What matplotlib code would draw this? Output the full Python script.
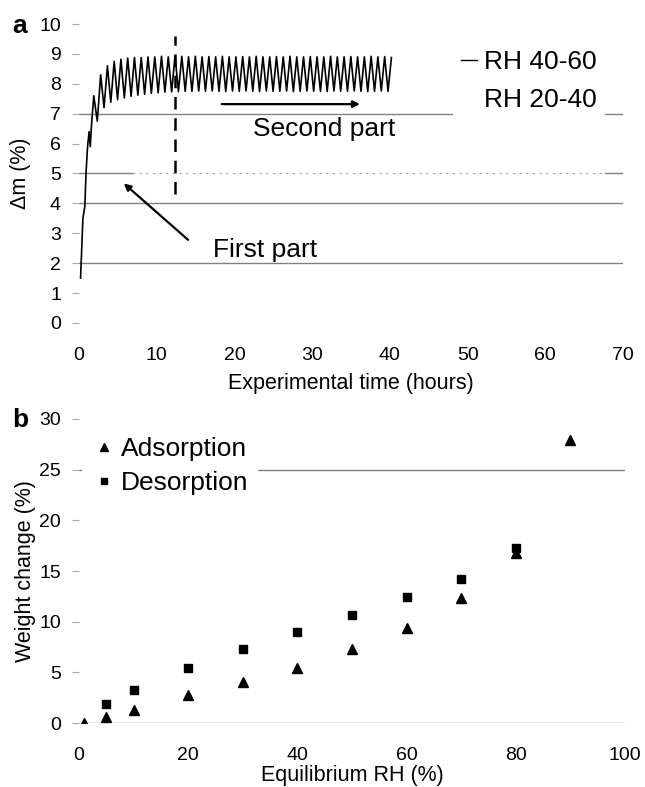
import numpy as np
import matplotlib
matplotlib.use("Agg")
import matplotlib.pyplot as plt
from matplotlib.lines import Line2D

plt.rcParams['font.family'] = ['Liberation Sans', 'DejaVu Sans']

# --- panel a: mass change during RH cycling ---
# first rise (hours, %)
rise_t = [0.2, 0.35, 0.5, 0.75, 0.9, 1.1, 1.3, 1.45, 1.6, 1.9]
rise_dm = [1.5, 2.5, 3.5, 3.9, 5.0, 5.9, 6.4, 5.9, 6.6, 7.6]

# turning points of the RH 20-40 / 40-60 cycles
cycle_start = 2.35
cycle_period = 0.87
trough_dm = [6.75, 7.20, 7.38, 7.47, 7.53, 7.58, 7.62, 7.65, 7.68, 7.70,
             7.72, 7.73, 7.74, 7.75, 7.75, 7.76, 7.75, 7.76, 7.75, 7.74,
             7.76, 7.75, 7.76, 7.75, 7.74, 7.76, 7.75, 7.75, 7.76, 7.74,
             7.75, 7.76, 7.75, 7.75, 7.74, 7.76, 7.75, 7.75, 7.76, 7.75,
             7.74, 7.75, 7.76, 7.75]
peak_dm = [8.30, 8.60, 8.75, 8.82, 8.86, 8.88, 8.88, 8.90, 8.90, 8.92,
           8.90, 8.93, 8.92, 8.90, 8.92, 8.90, 8.91, 8.90, 8.92, 8.90,
           8.90, 8.91, 8.90, 8.92, 8.90, 8.90, 8.91, 8.90, 8.92, 8.90,
           8.90, 8.91, 8.90, 8.90, 8.92, 8.90, 8.90, 8.91, 8.90, 8.90,
           8.92, 8.90, 8.91, 8.88]

split_time = 12.4          # end of first part
legend_a = ['RH 40-60', 'RH 20-40']

# --- panel b: sorption isotherm ---
ads_rh = [1, 5, 10, 20, 30, 40, 50, 60, 70, 80, 90]
ads_wc = [0.0, 0.62, 1.28, 2.76, 4.08, 5.46, 7.27, 9.35, 12.3, 16.8, 27.9]
des_rh = [5, 10, 20, 30, 40, 50, 60, 70, 80]
des_wc = [1.87, 3.26, 5.4, 7.27, 8.95, 10.7, 12.4, 14.2, 17.3]

# build the cycling curve from the turning points
tt = cycle_start + cycle_period * np.arange(len(trough_dm))
pt = tt + cycle_period / 2
cyc_t = np.empty(2 * len(tt))
cyc_dm = np.empty(2 * len(tt))
cyc_t[0::2], cyc_t[1::2] = tt, pt
cyc_dm[0::2], cyc_dm[1::2] = trough_dm, peak_dm
time = np.concatenate([rise_t, cyc_t])
dm = np.concatenate([rise_dm, cyc_dm])

grid_c = '#808080'
tick_fs = 14
lab_fs = 15.5
big_fs = 19

fig = plt.figure(figsize=(6.45, 7.87), dpi=100)
ax1 = fig.add_axes([0.1225, 0.5896, 0.8435, 0.3799])
ax2 = fig.add_axes([0.1225, 0.0813, 0.8465, 0.3863])

for ax in (ax1, ax2):
    for s in ax.spines.values():
        s.set_visible(False)
    ax.tick_params(axis='y', length=5, width=0.8, color='#a8a8a8',
                   labelsize=tick_fs, pad=8)
    ax.tick_params(axis='x', length=0, labelsize=tick_fs, pad=17.5)

# panel a
ax1.axhline(2, color=grid_c, lw=1, zorder=0)
ax1.axhline(4, color=grid_c, lw=1, zorder=0)
ax1.axhline(5, color='#a0a0a0', lw=0.8, ls=(0, (2, 4)), zorder=0)
ax1.axhline(5, xmax=0.098, color=grid_c, lw=1, zorder=0)
ax1.axhline(5, xmin=0.967, color=grid_c, lw=1, zorder=0)
ax1.axhline(7, color=grid_c, lw=1, zorder=0)

ax1.plot(time, dm, color='black', lw=1.2)
ax1.plot([split_time, split_time], [4.3, 9.6], color='black', lw=1.8,
         ls=(0, (5, 3.5)))

ax1.annotate('', xy=(36.5, 7.32), xytext=(18.0, 7.32),
             arrowprops=dict(arrowstyle='-|>', color='black', lw=1.6,
                             mutation_scale=10))
ax1.text(31.6, 6.5, 'Second part', fontsize=big_fs, ha='center', va='center')
ax1.annotate('', xy=(5.5, 4.73), xytext=(14.3, 2.72),
             arrowprops=dict(arrowstyle='-|>', color='black', lw=1.6,
                             mutation_scale=10))
ax1.text(23.9, 2.45, 'First part', fontsize=big_fs, ha='center', va='center')

handles = [Line2D([], [], color='black', lw=1),
           Line2D([], [], color='none', lw=1)]
leg = ax1.legend(handles, legend_a, loc='upper left',
                 bbox_to_anchor=(0.687, 0.94), fontsize=big_fs,
                 frameon=True, facecolor='white', edgecolor='none',
                 framealpha=1, fancybox=False, borderpad=0.3,
                 handlelength=0.6, handletextpad=0.3, labelspacing=0.52,
                 borderaxespad=0)
leg.set_zorder(5)

ax1.set_xlim(0, 70)
ax1.set_ylim(0, 10)
ax1.set_xticks(range(0, 71, 10))
ax1.set_yticks(range(0, 11))
ax1.set_xlabel('Experimental time (hours)', fontsize=lab_fs, labelpad=6.5)
ax1.set_ylabel('Δm (%)', fontsize=lab_fs, labelpad=6)

# panel b
ax2.axhline(0, color=grid_c, lw=1, zorder=0)
ax2.axhline(25, color=grid_c, lw=1, zorder=0)
ax2.plot(ads_rh, ads_wc, ls='none', marker='^', ms=7, color='black',
         label='Adsorption')
ax2.plot(des_rh, des_wc, ls='none', marker='s', ms=6, color='black',
         label='Desorption')
leg2 = ax2.legend(loc='upper left', bbox_to_anchor=(0.005, 0.97),
                  fontsize=big_fs, frameon=True, facecolor='white',
                  edgecolor='none', framealpha=1, fancybox=False,
                  borderpad=0.35, handlelength=1.0, handletextpad=0.15,
                  labelspacing=0.38, borderaxespad=0, markerscale=0.75)
leg2.set_zorder(5)

ax2.set_xlim(0, 100)
ax2.set_ylim(0, 30)
ax2.set_xticks(range(0, 101, 20))
ax2.set_yticks(range(0, 31, 5))
ax2.set_xlabel('Equilibrium RH (%)', fontsize=lab_fs, labelpad=0.5)
ax2.set_ylabel('Weight change (%)', fontsize=lab_fs, labelpad=2)

fig.text(0.031, 0.967, 'a', fontsize=19, fontweight='bold',
         ha='center', va='center')
fig.text(0.031, 0.466, 'b', fontsize=19, fontweight='bold',
         ha='center', va='center')

fig.savefig('out.png', dpi=100)
